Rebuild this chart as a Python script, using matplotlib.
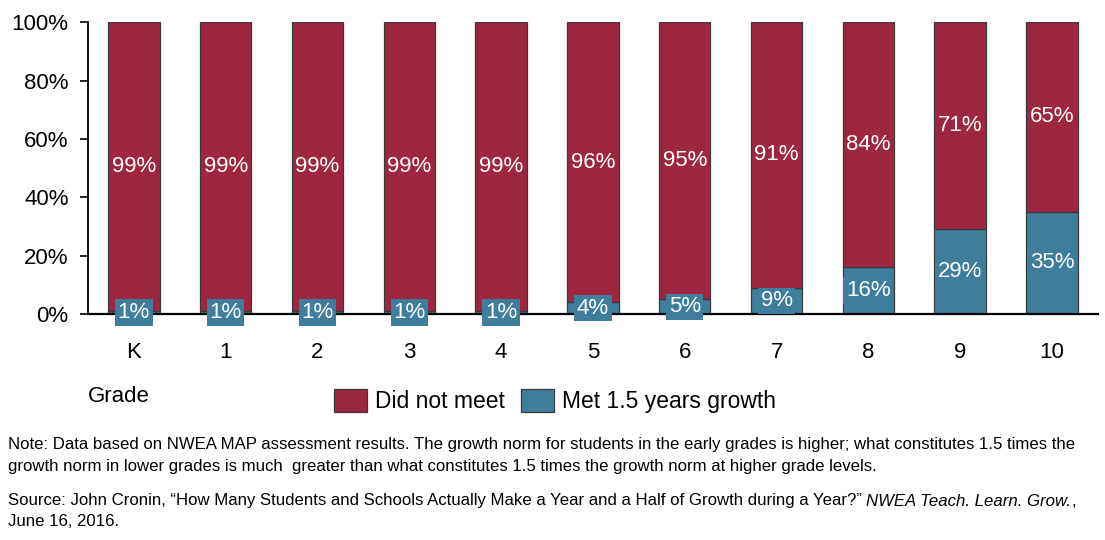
import matplotlib
matplotlib.use("Agg")
import matplotlib.pyplot as plt
from matplotlib.ticker import PercentFormatter

grades = ["K", "1", "2", "3", "4", "5", "6", "7", "8", "9", "10"]
met = [1, 1, 1, 1, 1, 4, 5, 9, 16, 29, 35]
did_not_meet = [99, 99, 99, 99, 99, 96, 95, 91, 84, 71, 65]

RED = "#9E2641"
BLUE = "#3E7D9C"
EDGE = "#3a3a3a"

plt.rcParams["font.family"] = ["Liberation Sans", "DejaVu Sans"]

fig = plt.figure(figsize=(11.05, 5.4), dpi=100)
ax = fig.add_axes([0.0796, 0.4185, 0.914, 0.5405])

x = range(len(grades))
ax.bar(x, met, 0.56, color=BLUE, edgecolor=EDGE, linewidth=0.9, label="Met 1.5 years growth", zorder=2)
ax.bar(x, did_not_meet, 0.56, bottom=met, color=RED, edgecolor=EDGE, linewidth=0.9,
       label="Did not meet", zorder=2)

for i, (m, d) in enumerate(zip(met, did_not_meet)):
    ax.text(i, m + d / 2, f"{d}%", ha="center", va="center", color="white", fontsize=16, zorder=4)
    ax.text(i, m / 2, f"{m}%", ha="center", va="center", color="white", fontsize=16, zorder=4,
            bbox=dict(boxstyle="square,pad=0.12", facecolor=BLUE, edgecolor="none"))

ax.set_xlim(-0.5, 10.5)
ax.set_ylim(0, 100)
ax.set_yticks(range(0, 101, 20))
ax.yaxis.set_major_formatter(PercentFormatter(decimals=0))
ax.set_xticks(list(x))
ax.set_xticklabels(grades)
ax.tick_params(axis="y", labelsize=16, length=6, width=1.2, direction="out", pad=8)
ax.tick_params(axis="x", labelsize=16, length=0, pad=20)
for s in ("top", "right"):
    ax.spines[s].set_visible(False)
ax.spines["left"].set_linewidth(1.3)
ax.spines["bottom"].set_linewidth(1.6)
ax.spines["bottom"].set_zorder(3)

fig.text(88 / 1105, 1 - 396 / 540, "Grade", fontsize=16, ha="left", va="center")

h, l = ax.get_legend_handles_labels()
fig.legend(h[::-1], l[::-1], loc="center", bbox_to_anchor=(555 / 1105, 1 - 401 / 540), ncol=2,
           frameon=False, fontsize=16.5, handlelength=1.45, handleheight=1.15, handletextpad=0.35,
           columnspacing=0.7, borderaxespad=0)

fs = 12.1
note = ("Note: Data based on NWEA MAP assessment results. The growth norm for students in the early grades is higher; "
        "what constitutes 1.5 times the\ngrowth norm in lower grades is much  greater than what constitutes 1.5 times "
        "the growth norm at higher grade levels.")
fig.text(8 / 1105, 1 - 445 / 540, note.split("\n")[0], fontsize=fs, ha="left", va="center")
fig.text(8 / 1105, 1 - 466 / 540, note.split("\n")[1], fontsize=fs, ha="left", va="center")
y1 = 1 - 501 / 540
t = fig.text(8 / 1105, y1, "Source: John Cronin, \u201cHow Many Students and Schools Actually Make a Year and a Half "
             "of Growth during a Year?\u201d ", fontsize=fs, ha="left", va="center")
fig.canvas.draw()
bb = t.get_window_extent()
t2 = fig.text(bb.x1 / fig.bbox.width, y1, "NWEA Teach. Learn. Grow.", fontsize=fs, ha="left", va="center",
              style="italic")
fig.canvas.draw()
bb2 = t2.get_window_extent()
fig.text(bb2.x1 / fig.bbox.width, y1, ",", fontsize=fs, ha="left", va="center")
fig.text(8 / 1105, 1 - 521 / 540, "June 16, 2016.", fontsize=fs, ha="left", va="center")

fig.savefig("out.png", dpi=100)
